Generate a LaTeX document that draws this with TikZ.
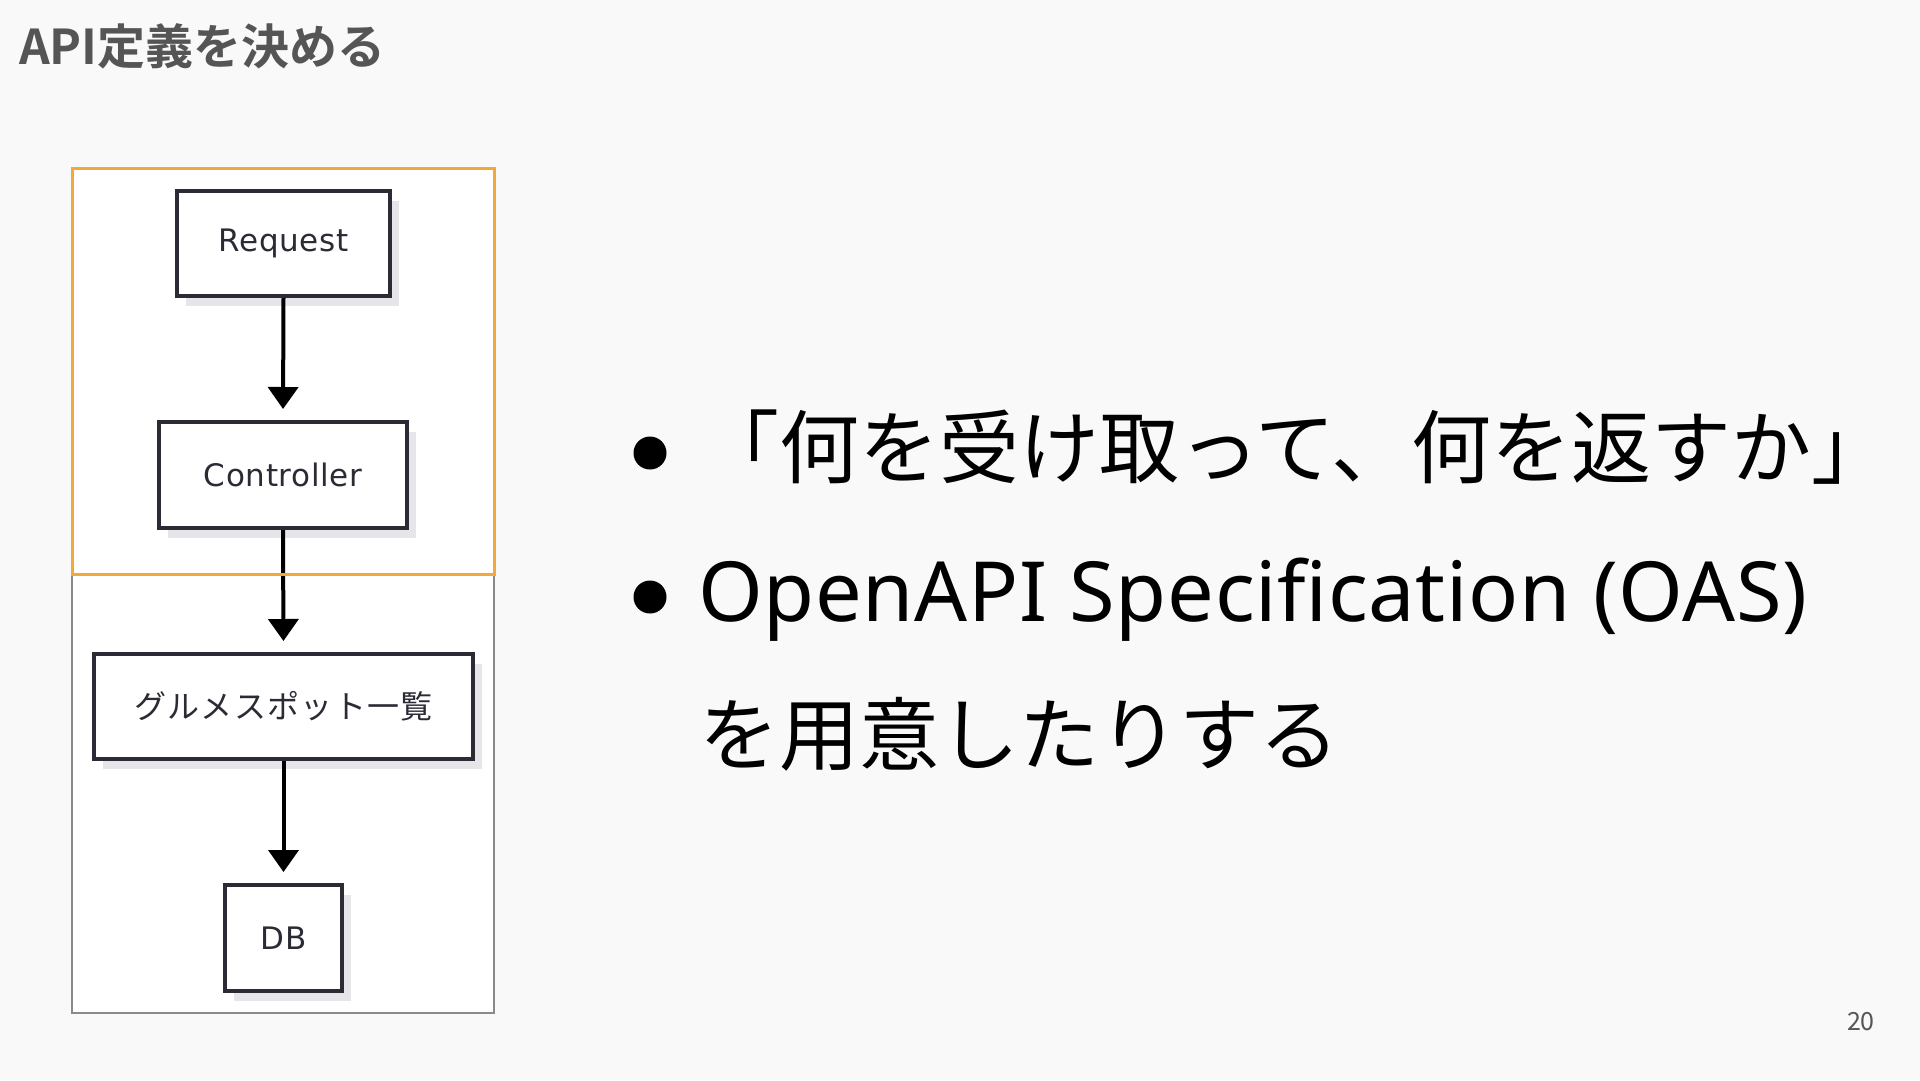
\documentclass[tikz,border=0pt]{standalone}
\usepackage{fontspec}
\setmainfont{Noto Sans CJK JP}[BoldFont={Noto Sans CJK JP Bold}]
\newfontfamily\diagfont{DejaVu Sans}[LetterSpace=2]
\newfontfamily\diagjp{Noto Sans CJK JP}[LetterSpace=4]
\newfontfamily\latinfont{Noto Sans}[LetterSpace=0.8]
\usetikzlibrary{arrows.meta,shadows}
\definecolor{bgc}{HTML}{F9F9F9}
\definecolor{titlec}{HTML}{555555}
\definecolor{boxc}{HTML}{2B2B36}
\definecolor{shadowc}{HTML}{E6E6EA}
\definecolor{orangec}{HTML}{F2A93B}
\definecolor{framec}{HTML}{8A8A8A}
\begin{document}
\begin{tikzpicture}[x=1pt,y=-1pt,
  box/.style={draw=boxc, line width=4pt, fill=white, inner sep=0pt, text=boxc,
    font=\diagfont\fontsize{31}{38}\selectfont,
    drop shadow={shadow xshift=9pt, shadow yshift=-10pt, opacity=1, fill=shadowc}},
  flow/.style={line width=4pt, draw=black, shorten >=11pt,
    -{Triangle[width=30pt,length=22pt]}},
  bullet/.style={circle, fill=black, minimum size=33pt, inner sep=0pt},
  bodytext/.style={anchor=base west, inner sep=0pt, outer sep=0pt,
    font=\fontsize{80}{96}\selectfont, text=black}]
\useasboundingbox[fill=bgc] (0,0) rectangle (1920,1080);

% title and page number
\node[anchor=base west, inner sep=0pt, text=titlec,
  font=\fontsize{48}{58}\selectfont\bfseries] (title) at (19,64) {API定義を決める};
\node[anchor=base east, inner sep=0pt, text=titlec,
  font=\fontsize{25}{30}\selectfont] (page) at (1875,1030) {20};

% diagram frames
\draw[framec, line width=1.5pt, fill=white] (72,168) rectangle (494,1013);

% diagram nodes
\node[box, minimum width=213pt, minimum height=105pt] (req) at (283.5,243.5) {Request};
\node[box, minimum width=248pt, minimum height=106pt] (ctl) at (283,475) {Controller};
\node[box, minimum width=379pt, minimum height=105pt,
  font=\diagjp\fontsize{32}{38}\selectfont] (gourmet) at (283.5,706.5) {グルメスポット一覧};
\node[box, minimum width=117pt, minimum height=106pt] (db) at (283.5,938) {DB};

\draw[flow] (req.south) -- (ctl.north);
\draw[flow] (ctl.south) -- (gourmet.north);
\draw[flow] (gourmet.south) -- (db.north);

\draw[orangec, line width=3pt] (72,168) rectangle (494,574);

% bullet list
\node[bullet] (b1) at (650,453) {};
\node[bullet] (b2) at (650,597) {};
\node[bodytext] (l1) at (699,477) {「何を受け取って、何を返すか」};
\node[bodytext, font=\latinfont\fontsize{83}{100}\selectfont] (l2) at (698,621) {OpenAPI Specification (OAS)};
\node[bodytext] (l3) at (699,764) {を用意したりする};
\end{tikzpicture}
\end{document}
